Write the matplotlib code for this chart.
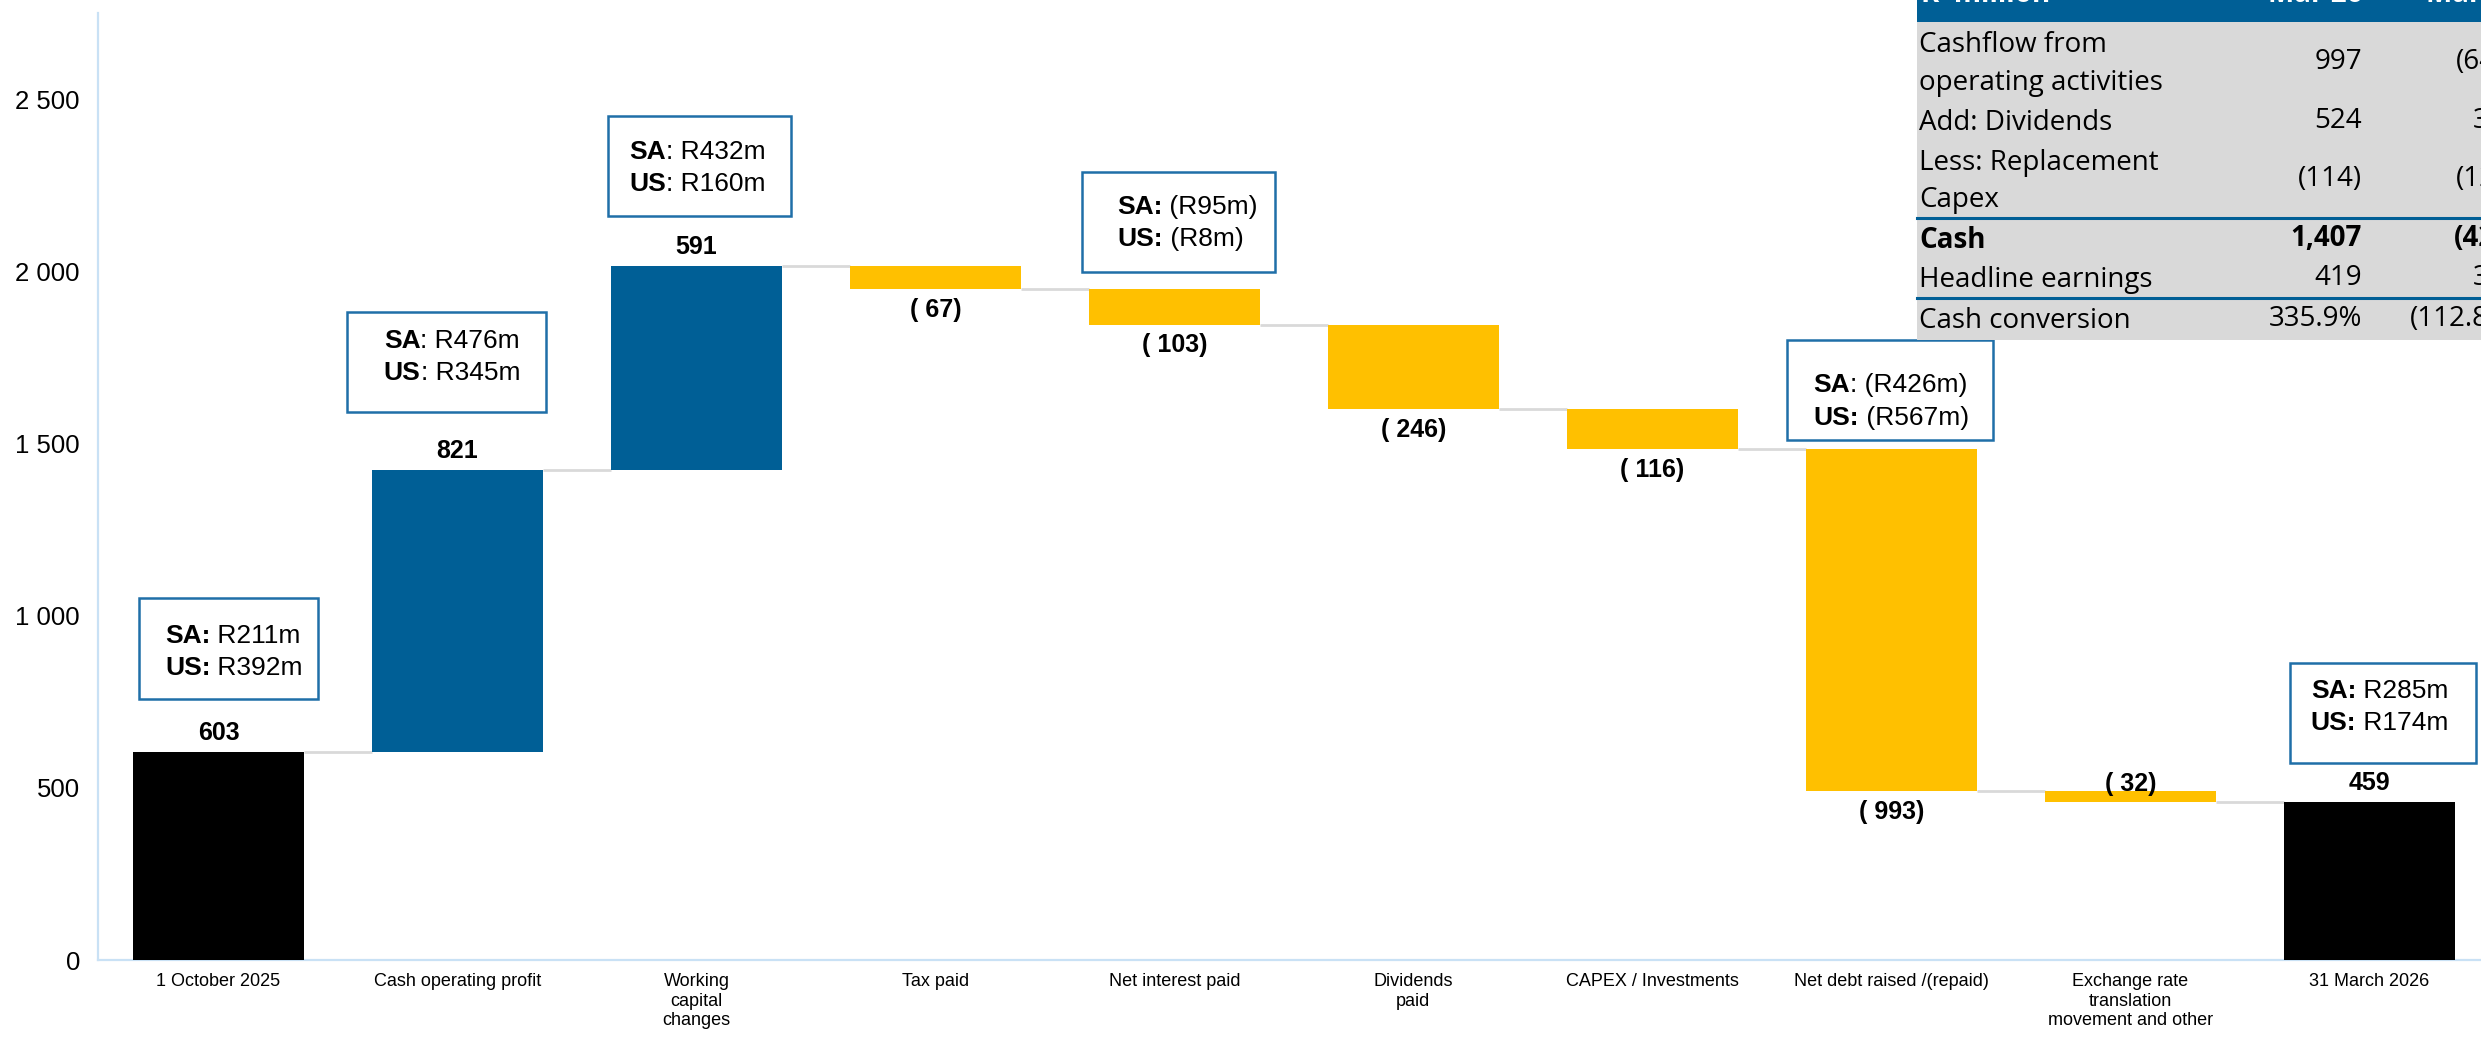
import matplotlib
matplotlib.use("Agg")
import matplotlib.pyplot as plt
from matplotlib.patches import Rectangle

# --- data -------------------------------------------------------------------
categories = ["1 October 2025", "Cash operating profit", "Working\ncapital\nchanges", "Tax paid",
              "Net interest paid", "Dividends\npaid", "CAPEX / Investments",
              "Net debt raised /(repaid)", "Exchange rate\ntranslation\nmovement and other",
              "31 March 2026"]
opening = 603
deltas = [821, 591, -67, -103, -246, -116, -993, -32]
closing = 459

# SA / US split call-outs (bar index, bold key, amount)
split_bars = [0, 1, 2, 4, 7, 9]
sa_keys = ["SA:", "SA", "SA", "SA:", "SA", "SA:"]
sa_amounts = ["R211m", "R476m", "R432m", "(R95m)", "(R426m)", "R285m"]
us_keys = ["US:", "US", "US", "US:", "US:", "US:"]
us_amounts = ["R392m", "R345m", "R160m", "(R8m)", "(R567m)", "R174m"]

# cash conversion table (top right, cut off by the slide edge)
table_header = ["R' million", "Mar 26", "Mar 25"]
table_labels = ["Cashflow from\noperating activities", "Add: Dividends", "Less: Replacement\nCapex",
                "Cash", "Headline earnings", "Cash conversion"]
table_mar26 = ["997", "524", "(114)", "1,407", "419", "335.9%"]
table_mar25 = ["(648)", "351", "(126)", "(423)", "375", "(112.8%)"]
table_bold = [False, False, False, True, False, False]

y_ticks = [0, 500, 1000, 1500, 2000, 2500]

# --- style ------------------------------------------------------------------
BLUE = "#005F96"
BOX_EDGE = "#1F6FA8"
YELLOW = "#FFC000"
GREY_LINE = "#D9D9D9"
AXIS = "#C9E1F5"
TABLE_BG = "#D9D9D9"

plt.rcParams["font.family"] = "Liberation Sans"

W, H = 2481, 1038
fig = plt.figure(figsize=(W / 100, H / 100), dpi=100)
ax = fig.add_axes([0.0395, 0.0751, 0.9605, 0.9124])

# --- waterfall --------------------------------------------------------------
n = len(categories)
xs = list(range(n))
bottoms, heights, colors, levels = [0], [opening], ["black"], [opening]
run = opening
for d in deltas:
    bottoms.append(run if d > 0 else run + d)
    heights.append(abs(d))
    colors.append(BLUE if d > 0 else YELLOW)
    run += d
    levels.append(run)
bottoms.append(0)
heights.append(closing)
colors.append("black")

bw = 0.716
ax.bar(xs, heights, bottom=bottoms, width=bw, color=colors, zorder=3)
ax.hlines(levels, [x + bw / 2 for x in xs[:-1]], [x - bw / 2 for x in xs[1:]],
          color=GREY_LINE, lw=2, zorder=2)

values = [opening] + deltas + [closing]
for i, v in enumerate(values):
    top = bottoms[i] + heights[i]
    if v >= 0:
        ax.annotate(f"{v}", (i, top), xytext=(0, 5), textcoords="offset points",
                    ha="center", va="bottom", fontsize=18, fontweight="bold", zorder=4)
    elif i == 8:
        ax.annotate(f"( {abs(v)})", (i, top), xytext=(0, 0), textcoords="offset points",
                    ha="center", va="baseline", fontsize=18, fontweight="bold", zorder=4)
    else:
        ax.annotate(f"( {abs(v)})", (i, bottoms[i]), xytext=(0, -6), textcoords="offset points",
                    ha="center", va="top", fontsize=18, fontweight="bold", zorder=4)

# call-out boxes: x0, x1, y0, y1, text x, baseline 1, baseline 2
box_layout = [
    (-0.333, 0.416, 759, 1052, -0.224, 921, 828),
    (0.538, 1.370, 1590, 1881, 0.692, 1776, 1683),
    (1.630, 2.395, 2160, 2451, 1.718, 2326, 2233),
    (3.613, 4.421, 1997, 2288, 3.760, 2166, 2073),
    (6.563, 7.425, 1509, 1799, 6.672, 1648, 1555),
    (8.667, 9.446, 573, 863, 8.755, 762, 669),
]
for k, (x0, x1, y0, y1, tx, b1, b2) in enumerate(box_layout):
    ax.add_patch(Rectangle((x0, y0), x1 - x0, y1 - y0, facecolor="white",
                           edgecolor=BOX_EDGE, lw=1.8, zorder=5))
    for key, amt, base in ((sa_keys[k], sa_amounts[k], b1), (us_keys[k], us_amounts[k], b2)):
        t = ax.text(tx, base, key, fontsize=19, fontweight="bold", ha="left", va="baseline", zorder=6)
        rest = (" " if key.endswith(":") else ": ") + amt
        ax.annotate(rest, xy=(1, 0), xycoords=t, ha="left", va="bottom", fontsize=19, zorder=6)

ax.set_xlim(-0.504, 9.467)
ax.set_ylim(0, 2750)
ax.set_yticks(y_ticks)
ax.set_yticklabels([f"{t:,}".replace(",", " ") for t in y_ticks], fontsize=18.5)
ax.set_xticks(xs)
ax.set_xticklabels(categories, fontsize=13, linespacing=1.2)
ax.tick_params(axis="y", length=0, pad=13)
ax.tick_params(axis="x", length=0, pad=9.5)
for s in ("top", "right"):
    ax.spines[s].set_visible(False)
for s in ("left", "bottom"):
    ax.spines[s].set_color(AXIS)
    ax.spines[s].set_linewidth(1.6)

# --- table overlay (pixel coordinates) --------------------------------------
tab = fig.add_axes([0, 0, 1, 1], zorder=10)
tab.set_xlim(0, W)
tab.set_ylim(H, 0)
tab.axis("off")

left = 1917
col1_right, col2_right = 2362, 2520
row_edges = [22, 102, 141, 218, 258, 298, 340]
tab.add_patch(Rectangle((left, -20), W - left + 10, 42, facecolor=BLUE, edgecolor="none"))
tab.add_patch(Rectangle((left, row_edges[0]), W - left + 10, row_edges[-1] - row_edges[0],
                        facecolor=TABLE_BG, edgecolor="none"))
for y in (row_edges[3], row_edges[5]):
    tab.plot([left, W + 10], [y, y], color=BLUE, lw=2.2)

tfont = "Open Sans"
tkw = dict(family=tfont, fontsize=20, color="white", fontweight="bold", va="baseline")
tab.text(left + 4, 1.5, table_header[0], ha="left", **tkw)
tab.text(col1_right, 1.5, table_header[1], ha="right", **tkw)
tab.text(col2_right, 1.5, table_header[2], ha="right", **tkw)

for r, lab in enumerate(table_labels):
    yc = (row_edges[r] + row_edges[r + 1]) / 2
    fw = "bold" if table_bold[r] else "normal"
    kw = dict(family=tfont, fontsize=20, color="black", fontweight=fw, va="center")
    tab.text(left + 2, yc + 2, lab, ha="left", linespacing=1.45, **kw)
    tab.text(col1_right, yc, table_mar26[r], ha="right", **kw)
    tab.text(col2_right, yc, table_mar25[r], ha="right", **kw)

fig.savefig("out.png", dpi=100, facecolor="white")
